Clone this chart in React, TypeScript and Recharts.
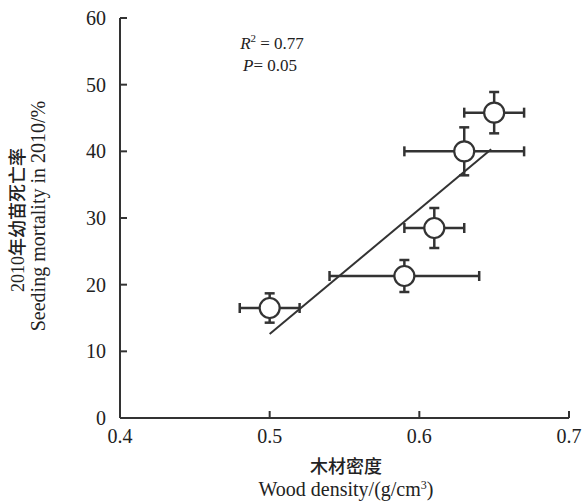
import React from 'react';
import { ScatterChart, Scatter, XAxis, YAxis, ErrorBar, Customized } from 'recharts';

const woodDensity = [0.5, 0.59, 0.61, 0.63, 0.65];
const mortality = [16.5, 21.3, 28.5, 40.0, 45.8];
const densityErr = [0.02, 0.05, 0.02, 0.04, 0.02];
const mortalityErr = [2.2, 2.4, 3.0, 3.6, 3.1];
const fitX = [0.5, 0.648];
const fitY = [12.6, 40.3];
const xTicks = [0.4, 0.5, 0.6, 0.7];
const yTicks = [0, 10, 20, 30, 40, 50, 60];

const points = woodDensity.map((x, i) => ({ x, y: mortality[i], ex: densityErr[i], ey: mortalityErr[i] }));
const fitLine = fitX.map((x, i) => ({ x, y: fitY[i] }));

const INK = '#333';
const SERIF = '"Liberation Serif", "Times New Roman", "Noto Sans CJK SC", serif';
const CJK = '"Noto Sans CJK SC", "Liberation Serif", serif';

const YTick = (props: any) => {
  const { x, y, payload } = props;
  return (
    <g>
      <line x1={x} y1={y} x2={x + 7} y2={y} stroke={INK} strokeWidth={2} />
      <text x={x - 14} y={y} dy={7} textAnchor="end" fontSize={20} fontFamily={SERIF} fill="#222">
        {payload.value}
      </text>
    </g>
  );
};

const XTick = (props: any) => {
  const { x, y, payload } = props;
  return (
    <g>
      <line x1={x} y1={y} x2={x} y2={y - 7} stroke={INK} strokeWidth={2} />
      <text x={x} y={y + 25} textAnchor="middle" fontSize={20} fontFamily={SERIF} fill="#222">
        {Number(payload.value).toFixed(1)}
      </text>
    </g>
  );
};

const Circle = (props: any) => {
  const { cx, cy } = props;
  return <circle cx={cx} cy={cy} r={10} fill="#fff" stroke={INK} strokeWidth={2.2} />;
};

const NoShape = () => <g />;

const Texts = () => (
  <g fontFamily={SERIF} fill="#222">
    <text x={272} y={49} textAnchor="middle" fontSize={17}>
      <tspan fontStyle="italic">R</tspan>
      <tspan fontSize={11} dy={-7}>2</tspan>
      <tspan dy={7}> = 0.77</tspan>
    </text>
    <text x={270} y={71} textAnchor="middle" fontSize={17}>
      <tspan fontStyle="italic">P</tspan>
      <tspan>= 0.05</tspan>
    </text>
    <text x={346} y={473} textAnchor="middle" fontSize={18} fontWeight={500} fontFamily={CJK}>木材密度</text>
    <text x={346} y={496} textAnchor="middle" fontSize={20}>
      Wood density/(g/cm<tspan fontSize={12} dy={-7}>3</tspan><tspan dy={7}>)</tspan>
    </text>
    <text transform="translate(24,220) rotate(-90)" textAnchor="middle" fontSize={18} fontWeight={500} fontFamily={CJK}>
      <tspan fontFamily={SERIF} fontWeight={400}>2010</tspan>年幼苗死亡率
    </text>
    <text transform="translate(45,216) rotate(-90)" textAnchor="middle" fontSize={20}>
      Seeding mortality in 2010/%
    </text>
  </g>
);

export default function App() {
  return (
    <div style={{ position: 'absolute', left: 0, top: 0, width: 583, height: 501, background: '#fff' }}>
      <ScatterChart width={583} height={501} margin={{ top: 18, right: 14, bottom: 82, left: 119 }}>
        <XAxis
          type="number"
          dataKey="x"
          domain={[0.4, 0.7]}
          ticks={xTicks}
          height={1}
          tickSize={0}
          tickMargin={0}
          tickLine={false}
          axisLine={{ stroke: INK, strokeWidth: 2 }}
          tick={<XTick />}
          allowDataOverflow
        />
        <YAxis
          type="number"
          dataKey="y"
          domain={[0, 60]}
          ticks={yTicks}
          width={1}
          tickSize={0}
          tickMargin={0}
          tickLine={false}
          axisLine={{ stroke: INK, strokeWidth: 2 }}
          tick={<YTick />}
          allowDataOverflow
        />
        <Scatter data={fitLine} line={{ stroke: INK, strokeWidth: 2 }} shape={<NoShape />} isAnimationActive={false} />
        <Scatter data={points} shape={<Circle />} isAnimationActive={false}>
          <ErrorBar dataKey="ex" direction="x" width={5} stroke={INK} strokeWidth={2.5} />
          <ErrorBar dataKey="ey" direction="y" width={5} stroke={INK} strokeWidth={2.5} />
        </Scatter>
        <Customized component={<Texts />} />
      </ScatterChart>
    </div>
  );
}
